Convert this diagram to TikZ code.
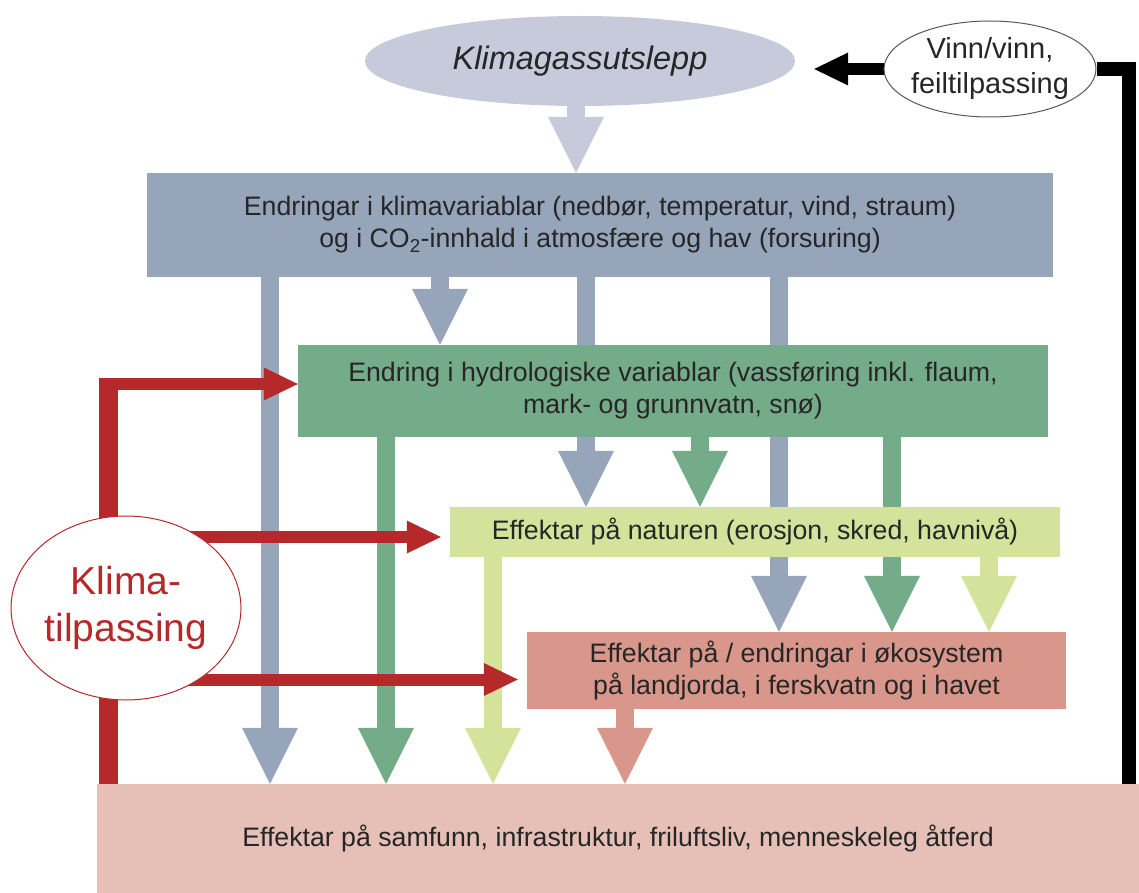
\documentclass[tikz,border=0pt]{standalone}
\usepackage{fontspec}
\setmainfont{Liberation Sans}
\usetikzlibrary{arrows.meta,shapes.geometric,backgrounds}
\definecolor{emis}{RGB}{198,202,219}
\definecolor{clim}{RGB}{151,165,187}
\definecolor{hydro}{RGB}{116,171,137}
\definecolor{nature}{RGB}{212,226,156}
\definecolor{eco}{RGB}{216,151,138}
\definecolor{soc}{RGB}{230,191,182}
\definecolor{adapt}{RGB}{181,41,42}
\tikzset{
	box/.style={rectangle, inner sep=0pt, align=center, text=black!85},
	fat/.style={line width=18pt, -{Triangle[width=56pt,length=56pt,line width=0pt]}},
	redarrow/.style={adapt, line width=12pt, -{Triangle[width=33pt,length=34pt,line width=0pt]}}
}
\begin{document}
\begin{tikzpicture}[x=1pt, y=-1pt, font=\fontsize{26.7}{32}\selectfont]
			\useasboundingbox (0,0) rectangle (1139,893);
			\node[ellipse, fill=emis, minimum width=430pt, minimum height=90pt, font=\fontsize{32.5}{38}\selectfont\itshape, text=black!85] (emis) at (580,61) {Klimagassutslepp};
			\node[box, fill=clim, minimum width=906pt, minimum height=104pt] (clim) at (600,225) {Endringar i klimavariablar (nedbør, temperatur, vind, straum)\\og i CO\textsubscript{2}-innhald i atmosfære og hav (forsuring)};
			\node[box, fill=hydro, minimum width=750pt, minimum height=92pt] (hydro) at (673,391) {Endring i hydrologiske variablar (vassføring inkl. flaum,\\mark- og grunnvatn, snø)};
			\node[box, fill=nature, minimum width=610pt, minimum height=50pt] (nature) at (755,532) {Effektar på naturen (erosjon, skred, havnivå)};
			\node[box, fill=eco, minimum width=539pt, minimum height=77pt] (eco) at (796.5,670.5) {Effektar på / endringar i økosystem\\på landjorda, i ferskvatn og i havet};
			\node[box, fill=soc, minimum width=1042pt, minimum height=109pt] (soc) at (618,838.5) {Effektar på samfunn, infrastruktur, friluftsliv, menneskeleg åtferd};
			\node[ellipse, draw=black!65, line width=1pt, fill=white, minimum width=212pt, minimum height=96pt] (vinn) at (990,69) {};
			\node[align=center, font=\fontsize{29}{35}\selectfont, text=black!85] (vinntext) at (vinn) {Vinn/vinn,\\feiltilpassing};
			\node[ellipse, draw=adapt, line width=1pt, fill=white, inner sep=0pt, minimum width=228pt, minimum height=184pt, align=center, text=adapt, font=\fontsize{39}{47}\selectfont] (tilp) at (126,608) {Klima-\\tilpassing};
			\begin{scope}[on background layer]
			\draw[fat, emis] (576,0 |- emis.south) -- (576,0 |- clim.north);
			\foreach \xx/\yy in {270/soc, 440/hydro, 586/nature, 779/eco}
				\draw[fat, clim] (\xx,0 |- clim.south) -- (\xx,0 |- \yy.north);
			\foreach \xx/\yy in {386/soc, 700/nature, 892/eco}
				\draw[fat, hydro] (\xx,0 |- hydro.south) -- (\xx,0 |- \yy.north);
			\foreach \xx/\yy in {493/soc, 989/eco}
				\draw[fat, nature] (\xx,0 |- nature.south) -- (\xx,0 |- \yy.north);
			\draw[fat, eco] (625,0 |- eco.south) -- (625,0 |- soc.north);
			% tilpassing
			\coordinate (bend) at (108,384);
			\coordinate (natin) at ([yshift=-5pt]nature.west);
			\coordinate (ecoin) at ([yshift=-9pt]eco.west);
			\draw[adapt, line width=19pt] (bend |- soc.north) -- ([yshift=6pt]bend);
			\draw[redarrow] (bend) -- (bend -| hydro.west);
			\draw[redarrow, shorten >=9pt] (tilp |- natin) -- (natin);
			\draw[redarrow, shorten >=9pt] (tilp |- ecoin) -- (ecoin);
			% vinn/vinn
			\draw[black, line width=14pt] (1129,0 |- soc.north) |- (vinn.east);
			\draw[black, line width=12pt, -{Triangle[width=33pt,length=34pt,line width=0pt]}, shorten >=19pt] (vinn.west) -- (vinn.west -| emis.east);
			\end{scope}
			\end{tikzpicture}
\end{document}
